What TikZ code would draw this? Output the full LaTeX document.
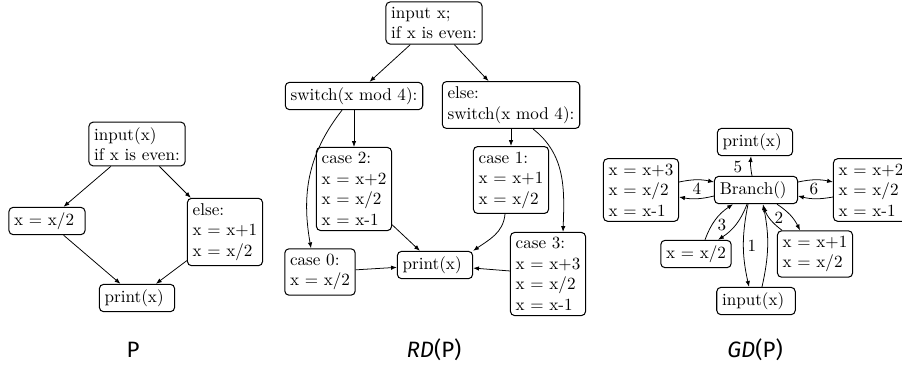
\documentclass[tikz,border=0pt]{standalone}
\usepackage{fontspec}
\newfontfamily\capfont{Fira Sans}
\usetikzlibrary{arrows.meta,calc}
\begin{document}
\begin{tikzpicture}[x=0.585pt,y=0.585pt,
  box/.style={draw, line width=0.6pt, rounded corners=2.5pt, align=left, inner xsep=3.1pt, inner ysep=3pt},
  arr/.style={-{Latex[length=3.4pt,width=2.6pt]}, line width=0.45pt},
  lbl/.style={inner sep=0pt},
  captext/.style={font=\capfont\fontsize{13}{15}\selectfont, inner sep=0pt}]
\useasboundingbox (0,0) rectangle (902,-368);
\clip (0,0) rectangle (902,-368);
% ---------- P ----------
\node[box] (pin) at (137,-144) {input(x)\\if x is even:};
\node[box] (pa) at (47,-221) {x = x/2\ };
\node[box] (pb) at (225,-232) {else:\\x = x+1\\x = x/2};
\node[box] (pp) at (137,-298) {print(x)\ };
\draw[arr] (pin) -- (pa);
\draw[arr] (pin) -- (pb);
\draw[arr] (pa) -- (pp);
\draw[arr] (pb) -- (pp);
% ---------- RD(P) ----------
\node[box] (rin) at (434,-23) {input x;\\if x is even:};
\node[box] (rsw) at (354,-96) {switch(x mod 4):};
\node[box] (rel) at (511,-105) {else:\\switch(x mod 4):};
\node[box] (rc2) at (354,-189) {case 2:\\x = x+2\\x = x/2\\x = x-1};
\node[box] (rc1) at (511,-180) {case 1:\\x = x+1\\x = x/2};
\node[box] (rc0) at (320,-272) {case 0:\\x = x/2};
\node[box] (rp) at (435,-265) {print(x)\ };
\node[box] (rc3) at (548,-274) {case 3:\\x = x+3\\x = x/2\\x = x-1};
\draw[arr] (rin) -- (rsw);
\draw[arr] (rin) -- (rel);
\draw[arr] (rsw) -- (rc2);
\draw[arr] (rel) -- (rc1);
\draw[arr] ($(rsw.south)+(-12,0)$) to[out=232,in=100] ($(rc0.north)+(-9,0)$);
\draw[arr] ($(rel.south)+(22,0)$) to[out=-38,in=88] ($(rc3.north)+(15,0)$);
\draw[arr] ($(rc1.south)+(-6,0)$) to[out=265,in=35] (rp.north east);
\draw[arr] (rc2) -- (rp);
\draw[arr] (rc0) -- (rp);
\draw[arr] (rc3) -- (rp);
% ---------- GD(P) ----------
\node[box] (gp) at (755,-142) {print(x)\ };
\node[box] (gb) at (756,-190) {Branch()\ };
\node[box] (gl) at (641,-190) {x = x+3\\x = x/2\\x = x-1};
\node[box] (gr) at (871,-190) {x = x+2\\x = x/2\\x = x-1};
\node[box] (gx) at (696,-254) {x = x/2};
\node[box] (g1) at (815,-254) {x = x+1\\x = x/2};
\node[box] (gi) at (756,-301) {input(x)\ };
\draw[arr] ($(gb.north)+(-4,0)$) to[bend left=8] ($(gp.south)+(-4,0)$);
\draw[arr] ($(gl.east)+(0,8)$) to[bend left=12] ($(gb.west)+(0,8)$);
\draw[arr] ($(gb.west)+(0,-6)$) to[bend left=12] ($(gl.east)+(0,-7)$);
\draw[arr] ($(gb.east)+(0,8)$) to[bend left=12] ($(gr.west)+(0,8)$);
\draw[arr] ($(gr.west)+(0,-7)$) to[bend left=12] ($(gb.east)+(0,-6)$);
\draw[arr] ($(gx.north)+(9,0)$) to[bend left=18] ($(gb.south)+(-23,0)$);
\draw[arr] ($(gb.south)+(-9,0)$) to[bend left=18] ($(gx.north)+(22,0)$);
\draw[arr] ($(gb.south)+(-8,0)$) to[bend right=12] ($(gi.north)+(-7,0)$);
\draw[arr] ($(gi.north)+(6,0)$) to[bend right=12] ($(gb.south)+(7,0)$);
\draw[arr] ($(gb.south)+(21,0)$) to[bend left=15] ($(g1.north)+(-15,0)$);
\draw[arr] ($(g1.north)+(-33,0)$) to[bend left=15] ($(gb.south)+(7,-2)$);
\node[lbl] (l5) at (738,-167) {5};
\node[lbl] (l4) at (697,-189) {4};
\node[lbl] (l6) at (814,-189) {6};
\node[lbl] (l3) at (722,-225) {3};
\node[lbl] (l1) at (752,-246) {1};
\node[lbl] (l2) at (779,-218) {2};
% ---------- captions ----------
\node[captext] (c1) at (133,-350) {P};
\node[captext] (c2) at (434,-350) {{\itshape RD}(P)};
\node[captext] (c3) at (755,-350) {{\itshape GD}(P)};
\end{tikzpicture}
\end{document}
